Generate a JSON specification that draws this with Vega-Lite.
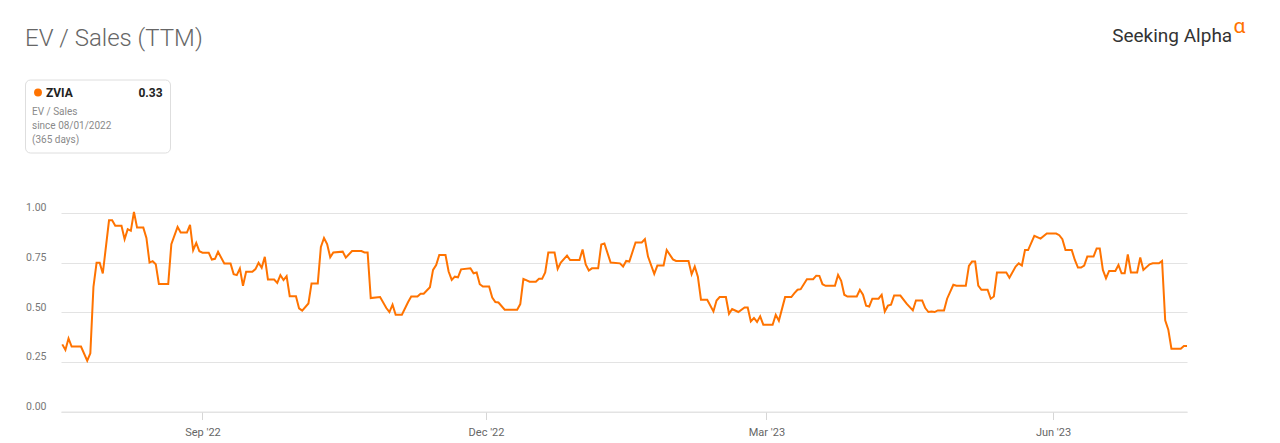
{
  "$schema": "https://vega.github.io/schema/vega-lite/v6.json",
  "autosize": {"type": "none"},
  "padding": {"left": 61, "top": 203, "right": 93, "bottom": 231.5},
  "width": 1126,
  "height": 208.5,
  "background": "white",
  "title": {"text": "EV / Sales (TTM)", "anchor": "start", "frame": "group", "orient": "top", "offset": 0, "dx": -36, "dy": 54, "baseline": "alphabetic", "font": "Roboto", "fontSize": 24, "fontWeight": 300, "color": "#666666"},
  "config": {"view": {"stroke": null}},
  "data": {"values": [
    {"date": "2022-07-18", "value": 0.338},
    {"date": "2022-07-19", "value": 0.31},
    {"date": "2022-07-20", "value": 0.368},
    {"date": "2022-07-21", "value": 0.327},
    {"date": "2022-07-24", "value": 0.327},
    {"date": "2022-07-26", "value": 0.256},
    {"date": "2022-07-27", "value": 0.293},
    {"date": "2022-07-28", "value": 0.628},
    {"date": "2022-07-29", "value": 0.749},
    {"date": "2022-07-30", "value": 0.749},
    {"date": "2022-07-31", "value": 0.695},
    {"date": "2022-08-02", "value": 0.963},
    {"date": "2022-08-03", "value": 0.963},
    {"date": "2022-08-04", "value": 0.935},
    {"date": "2022-08-06", "value": 0.935},
    {"date": "2022-08-07", "value": 0.868},
    {"date": "2022-08-08", "value": 0.918},
    {"date": "2022-08-09", "value": 0.91},
    {"date": "2022-08-10", "value": 1.005},
    {"date": "2022-08-11", "value": 0.926},
    {"date": "2022-08-13", "value": 0.926},
    {"date": "2022-08-14", "value": 0.874},
    {"date": "2022-08-15", "value": 0.75},
    {"date": "2022-08-16", "value": 0.757},
    {"date": "2022-08-17", "value": 0.742},
    {"date": "2022-08-18", "value": 0.642},
    {"date": "2022-08-21", "value": 0.642},
    {"date": "2022-08-22", "value": 0.843},
    {"date": "2022-08-24", "value": 0.93},
    {"date": "2022-08-25", "value": 0.901},
    {"date": "2022-08-27", "value": 0.901},
    {"date": "2022-08-28", "value": 0.94},
    {"date": "2022-08-29", "value": 0.812},
    {"date": "2022-08-30", "value": 0.849},
    {"date": "2022-08-31", "value": 0.807},
    {"date": "2022-09-01", "value": 0.8},
    {"date": "2022-09-03", "value": 0.8},
    {"date": "2022-09-04", "value": 0.765},
    {"date": "2022-09-05", "value": 0.769},
    {"date": "2022-09-06", "value": 0.804},
    {"date": "2022-09-08", "value": 0.745},
    {"date": "2022-09-10", "value": 0.745},
    {"date": "2022-09-11", "value": 0.692},
    {"date": "2022-09-12", "value": 0.687},
    {"date": "2022-09-13", "value": 0.72},
    {"date": "2022-09-14", "value": 0.633},
    {"date": "2022-09-15", "value": 0.704},
    {"date": "2022-09-17", "value": 0.704},
    {"date": "2022-09-18", "value": 0.717},
    {"date": "2022-09-19", "value": 0.749},
    {"date": "2022-09-20", "value": 0.724},
    {"date": "2022-09-21", "value": 0.779},
    {"date": "2022-09-22", "value": 0.665},
    {"date": "2022-09-24", "value": 0.665},
    {"date": "2022-09-25", "value": 0.648},
    {"date": "2022-09-26", "value": 0.687},
    {"date": "2022-09-27", "value": 0.662},
    {"date": "2022-09-28", "value": 0.682},
    {"date": "2022-09-29", "value": 0.581},
    {"date": "2022-10-01", "value": 0.581},
    {"date": "2022-10-02", "value": 0.519},
    {"date": "2022-10-03", "value": 0.508},
    {"date": "2022-10-05", "value": 0.544},
    {"date": "2022-10-06", "value": 0.645},
    {"date": "2022-10-08", "value": 0.645},
    {"date": "2022-10-09", "value": 0.829},
    {"date": "2022-10-10", "value": 0.874},
    {"date": "2022-10-11", "value": 0.843},
    {"date": "2022-10-12", "value": 0.777},
    {"date": "2022-10-13", "value": 0.801},
    {"date": "2022-10-16", "value": 0.805},
    {"date": "2022-10-17", "value": 0.775},
    {"date": "2022-10-19", "value": 0.808},
    {"date": "2022-10-22", "value": 0.808},
    {"date": "2022-10-23", "value": 0.801},
    {"date": "2022-10-24", "value": 0.801},
    {"date": "2022-10-25", "value": 0.571},
    {"date": "2022-10-28", "value": 0.576},
    {"date": "2022-10-30", "value": 0.521},
    {"date": "2022-10-31", "value": 0.501},
    {"date": "2022-11-01", "value": 0.538},
    {"date": "2022-11-02", "value": 0.487},
    {"date": "2022-11-04", "value": 0.487},
    {"date": "2022-11-06", "value": 0.551},
    {"date": "2022-11-07", "value": 0.579},
    {"date": "2022-11-09", "value": 0.579},
    {"date": "2022-11-10", "value": 0.593},
    {"date": "2022-11-11", "value": 0.593},
    {"date": "2022-11-13", "value": 0.626},
    {"date": "2022-11-14", "value": 0.713},
    {"date": "2022-11-15", "value": 0.738},
    {"date": "2022-11-16", "value": 0.788},
    {"date": "2022-11-18", "value": 0.788},
    {"date": "2022-11-19", "value": 0.705},
    {"date": "2022-11-20", "value": 0.663},
    {"date": "2022-11-21", "value": 0.679},
    {"date": "2022-11-22", "value": 0.676},
    {"date": "2022-11-23", "value": 0.716},
    {"date": "2022-11-26", "value": 0.721},
    {"date": "2022-11-27", "value": 0.696},
    {"date": "2022-11-28", "value": 0.7},
    {"date": "2022-11-29", "value": 0.641},
    {"date": "2022-11-30", "value": 0.629},
    {"date": "2022-12-02", "value": 0.629},
    {"date": "2022-12-03", "value": 0.574},
    {"date": "2022-12-04", "value": 0.551},
    {"date": "2022-12-05", "value": 0.549},
    {"date": "2022-12-07", "value": 0.513},
    {"date": "2022-12-11", "value": 0.513},
    {"date": "2022-12-12", "value": 0.541},
    {"date": "2022-12-13", "value": 0.668},
    {"date": "2022-12-15", "value": 0.654},
    {"date": "2022-12-17", "value": 0.654},
    {"date": "2022-12-18", "value": 0.668},
    {"date": "2022-12-19", "value": 0.668},
    {"date": "2022-12-20", "value": 0.7},
    {"date": "2022-12-21", "value": 0.801},
    {"date": "2022-12-23", "value": 0.801},
    {"date": "2022-12-24", "value": 0.718},
    {"date": "2022-12-25", "value": 0.75},
    {"date": "2022-12-27", "value": 0.785},
    {"date": "2022-12-28", "value": 0.763},
    {"date": "2022-12-31", "value": 0.763},
    {"date": "2023-01-01", "value": 0.816},
    {"date": "2023-01-02", "value": 0.741},
    {"date": "2023-01-03", "value": 0.71},
    {"date": "2023-01-04", "value": 0.721},
    {"date": "2023-01-06", "value": 0.721},
    {"date": "2023-01-07", "value": 0.841},
    {"date": "2023-01-08", "value": 0.846},
    {"date": "2023-01-10", "value": 0.75},
    {"date": "2023-01-13", "value": 0.746},
    {"date": "2023-01-14", "value": 0.73},
    {"date": "2023-01-15", "value": 0.758},
    {"date": "2023-01-16", "value": 0.755},
    {"date": "2023-01-18", "value": 0.851},
    {"date": "2023-01-20", "value": 0.851},
    {"date": "2023-01-21", "value": 0.868},
    {"date": "2023-01-22", "value": 0.78},
    {"date": "2023-01-24", "value": 0.693},
    {"date": "2023-01-25", "value": 0.735},
    {"date": "2023-01-27", "value": 0.735},
    {"date": "2023-01-28", "value": 0.813},
    {"date": "2023-01-30", "value": 0.766},
    {"date": "2023-01-31", "value": 0.758},
    {"date": "2023-02-04", "value": 0.758},
    {"date": "2023-02-05", "value": 0.691},
    {"date": "2023-02-06", "value": 0.73},
    {"date": "2023-02-07", "value": 0.679},
    {"date": "2023-02-08", "value": 0.563},
    {"date": "2023-02-10", "value": 0.563},
    {"date": "2023-02-12", "value": 0.504},
    {"date": "2023-02-13", "value": 0.559},
    {"date": "2023-02-14", "value": 0.576},
    {"date": "2023-02-16", "value": 0.576},
    {"date": "2023-02-17", "value": 0.492},
    {"date": "2023-02-18", "value": 0.516},
    {"date": "2023-02-20", "value": 0.501},
    {"date": "2023-02-22", "value": 0.524},
    {"date": "2023-02-23", "value": 0.524},
    {"date": "2023-02-24", "value": 0.454},
    {"date": "2023-02-25", "value": 0.471},
    {"date": "2023-02-26", "value": 0.451},
    {"date": "2023-02-27", "value": 0.479},
    {"date": "2023-02-28", "value": 0.437},
    {"date": "2023-03-03", "value": 0.437},
    {"date": "2023-03-04", "value": 0.487},
    {"date": "2023-03-05", "value": 0.457},
    {"date": "2023-03-07", "value": 0.576},
    {"date": "2023-03-09", "value": 0.576},
    {"date": "2023-03-10", "value": 0.596},
    {"date": "2023-03-11", "value": 0.613},
    {"date": "2023-03-12", "value": 0.616},
    {"date": "2023-03-14", "value": 0.666},
    {"date": "2023-03-16", "value": 0.666},
    {"date": "2023-03-17", "value": 0.684},
    {"date": "2023-03-18", "value": 0.683},
    {"date": "2023-03-19", "value": 0.641},
    {"date": "2023-03-20", "value": 0.633},
    {"date": "2023-03-23", "value": 0.633},
    {"date": "2023-03-24", "value": 0.688},
    {"date": "2023-03-25", "value": 0.658},
    {"date": "2023-03-26", "value": 0.588},
    {"date": "2023-03-27", "value": 0.579},
    {"date": "2023-03-30", "value": 0.579},
    {"date": "2023-03-31", "value": 0.613},
    {"date": "2023-04-01", "value": 0.588},
    {"date": "2023-04-02", "value": 0.533},
    {"date": "2023-04-03", "value": 0.529},
    {"date": "2023-04-04", "value": 0.568},
    {"date": "2023-04-06", "value": 0.568},
    {"date": "2023-04-07", "value": 0.588},
    {"date": "2023-04-08", "value": 0.504},
    {"date": "2023-04-09", "value": 0.533},
    {"date": "2023-04-10", "value": 0.538},
    {"date": "2023-04-11", "value": 0.584},
    {"date": "2023-04-13", "value": 0.584},
    {"date": "2023-04-15", "value": 0.543},
    {"date": "2023-04-17", "value": 0.509},
    {"date": "2023-04-18", "value": 0.559},
    {"date": "2023-04-20", "value": 0.559},
    {"date": "2023-04-21", "value": 0.521},
    {"date": "2023-04-22", "value": 0.501},
    {"date": "2023-04-23", "value": 0.504},
    {"date": "2023-04-24", "value": 0.501},
    {"date": "2023-04-25", "value": 0.509},
    {"date": "2023-04-27", "value": 0.509},
    {"date": "2023-04-28", "value": 0.568},
    {"date": "2023-04-30", "value": 0.638},
    {"date": "2023-05-01", "value": 0.633},
    {"date": "2023-05-04", "value": 0.633},
    {"date": "2023-05-05", "value": 0.733},
    {"date": "2023-05-06", "value": 0.755},
    {"date": "2023-05-07", "value": 0.755},
    {"date": "2023-05-08", "value": 0.634},
    {"date": "2023-05-09", "value": 0.613},
    {"date": "2023-05-11", "value": 0.613},
    {"date": "2023-05-12", "value": 0.568},
    {"date": "2023-05-13", "value": 0.579},
    {"date": "2023-05-14", "value": 0.7},
    {"date": "2023-05-17", "value": 0.7},
    {"date": "2023-05-18", "value": 0.674},
    {"date": "2023-05-20", "value": 0.73},
    {"date": "2023-05-21", "value": 0.746},
    {"date": "2023-05-22", "value": 0.735},
    {"date": "2023-05-23", "value": 0.813},
    {"date": "2023-05-24", "value": 0.813},
    {"date": "2023-05-26", "value": 0.885},
    {"date": "2023-05-28", "value": 0.871},
    {"date": "2023-05-30", "value": 0.896},
    {"date": "2023-06-02", "value": 0.896},
    {"date": "2023-06-03", "value": 0.888},
    {"date": "2023-06-04", "value": 0.868},
    {"date": "2023-06-05", "value": 0.813},
    {"date": "2023-06-07", "value": 0.813},
    {"date": "2023-06-08", "value": 0.763},
    {"date": "2023-06-09", "value": 0.725},
    {"date": "2023-06-10", "value": 0.725},
    {"date": "2023-06-11", "value": 0.735},
    {"date": "2023-06-12", "value": 0.78},
    {"date": "2023-06-14", "value": 0.78},
    {"date": "2023-06-15", "value": 0.821},
    {"date": "2023-06-16", "value": 0.821},
    {"date": "2023-06-17", "value": 0.713},
    {"date": "2023-06-18", "value": 0.671},
    {"date": "2023-06-19", "value": 0.708},
    {"date": "2023-06-21", "value": 0.708},
    {"date": "2023-06-22", "value": 0.738},
    {"date": "2023-06-23", "value": 0.696},
    {"date": "2023-06-24", "value": 0.696},
    {"date": "2023-06-25", "value": 0.791},
    {"date": "2023-06-26", "value": 0.7},
    {"date": "2023-06-28", "value": 0.7},
    {"date": "2023-06-29", "value": 0.776},
    {"date": "2023-06-30", "value": 0.713},
    {"date": "2023-07-02", "value": 0.741},
    {"date": "2023-07-03", "value": 0.746},
    {"date": "2023-07-05", "value": 0.746},
    {"date": "2023-07-06", "value": 0.758},
    {"date": "2023-07-07", "value": 0.459},
    {"date": "2023-07-08", "value": 0.412},
    {"date": "2023-07-09", "value": 0.316},
    {"date": "2023-07-12", "value": 0.316},
    {"date": "2023-07-13", "value": 0.33},
    {"date": "2023-07-14", "value": 0.33}
  ]},
  "encoding": {
    "x": {
      "field": "date", "type": "temporal",
      "scale": {"type": "utc", "domain": [{"year": 2022, "month": 7, "date": 17, "hours": 14, "utc": true}, {"year": 2023, "month": 7, "date": 14, "utc": true}], "nice": false},
      "axis": {
        "values": [{"year": 2022, "month": 9, "date": 1, "utc": true}, {"year": 2022, "month": 12, "date": 1, "utc": true}, {"year": 2023, "month": 3, "date": 1, "utc": true}, {"year": 2023, "month": 6, "date": 1, "utc": true}],
        "labelExpr": "utcFormat(datum.value, \"%b '%y\")",
        "grid": false, "domain": true, "domainColor": "#e3e3e3", "domainWidth": 1,
        "ticks": true, "tickColor": "#d6d6d6", "tickSize": 8, "tickWidth": 1,
        "labelPadding": 7, "labelFont": "Roboto", "labelFontSize": 11, "labelColor": "#666666",
        "title": "α", "titleX": 1172, "titleY": -378.8, "titleAlign": "left", "titleAnchor": null, "titleBaseline": "alphabetic", "titleAngle": 0,
        "titleFont": "Roboto", "titleFontSize": 21, "titleFontWeight": "normal", "titleColor": "#ff7300"
      }
    },
    "y": {
      "field": "value", "type": "quantitative",
      "scale": {"domain": [0, 1.05], "nice": false, "zero": true},
      "axis": {
        "values": [0, 0.25, 0.5, 0.75, 1], "format": ".2f",
        "grid": true, "gridColor": "#e3e3e3", "gridWidth": 1,
        "domain": false, "ticks": false, "tickSize": 0,
        "labelPadding": 15, "labelFont": "Roboto", "labelFontSize": 10.5, "labelColor": "#777777", "labelBaseline": "alphabetic", "labelOffset": -2,
        "title": "Seeking Alpha", "titleX": 1170.7, "titleY": -162, "titleAlign": "right", "titleAnchor": null, "titleBaseline": "alphabetic", "titleAngle": 0,
        "titleFont": "Roboto", "titleFontSize": 19, "titleFontWeight": "normal", "titleColor": "#333333"
      }
    }
  },
  "layer": [
    {
      "mark": {"type": "line", "interpolate": "linear", "color": "#ff7300", "strokeWidth": 2}
    },
    {
      "mark": {"type": "point", "filled": true, "shape": "circle", "opacity": 0, "size": 1},
      "encoding": {
        "color": {
          "datum": "ZVIA",
          "scale": {"range": ["#ff7300"]},
          "legend": {
            "orient": "none", "legendX": -36, "legendY": -123.5,
            "fillColor": "white", "strokeColor": "#dedede", "cornerRadius": 5, "padding": 7,
            "symbolType": "circle", "symbolSize": 62, "symbolOpacity": 1, "symbolStrokeWidth": 0, "symbolFillColor": "#ff7300",
            "labelExpr": "datum.label + '\u00a0\u00a0\u00a0\u00a0\u00a0\u00a0\u00a0\u00a0\u00a0\u00a0\u00a0\u00a0\u00a0\u00a0\u00a0\u00a0\u00a0\u00a0\u00a0\u00a0\u00a0\u00a00.33'",
            "labelFont": "Roboto", "labelFontSize": 12, "labelFontWeight": "bold", "labelColor": "#222222", "labelLimit": 400, "labelOffset": 2,
            "title": ["EV / Sales", "since 08/01/2022", "(365 days)"],
            "titleOrient": "bottom", "titleAnchor": "start", "titleAlign": "left",
            "titleFont": "Roboto", "titleFontSize": 10, "titleFontWeight": "normal", "titleColor": "#8a8a8a", "titleLineHeight": 14, "titlePadding": 8.5, "titleLimit": 400
          }
        }
      }
    }
  ]
}
